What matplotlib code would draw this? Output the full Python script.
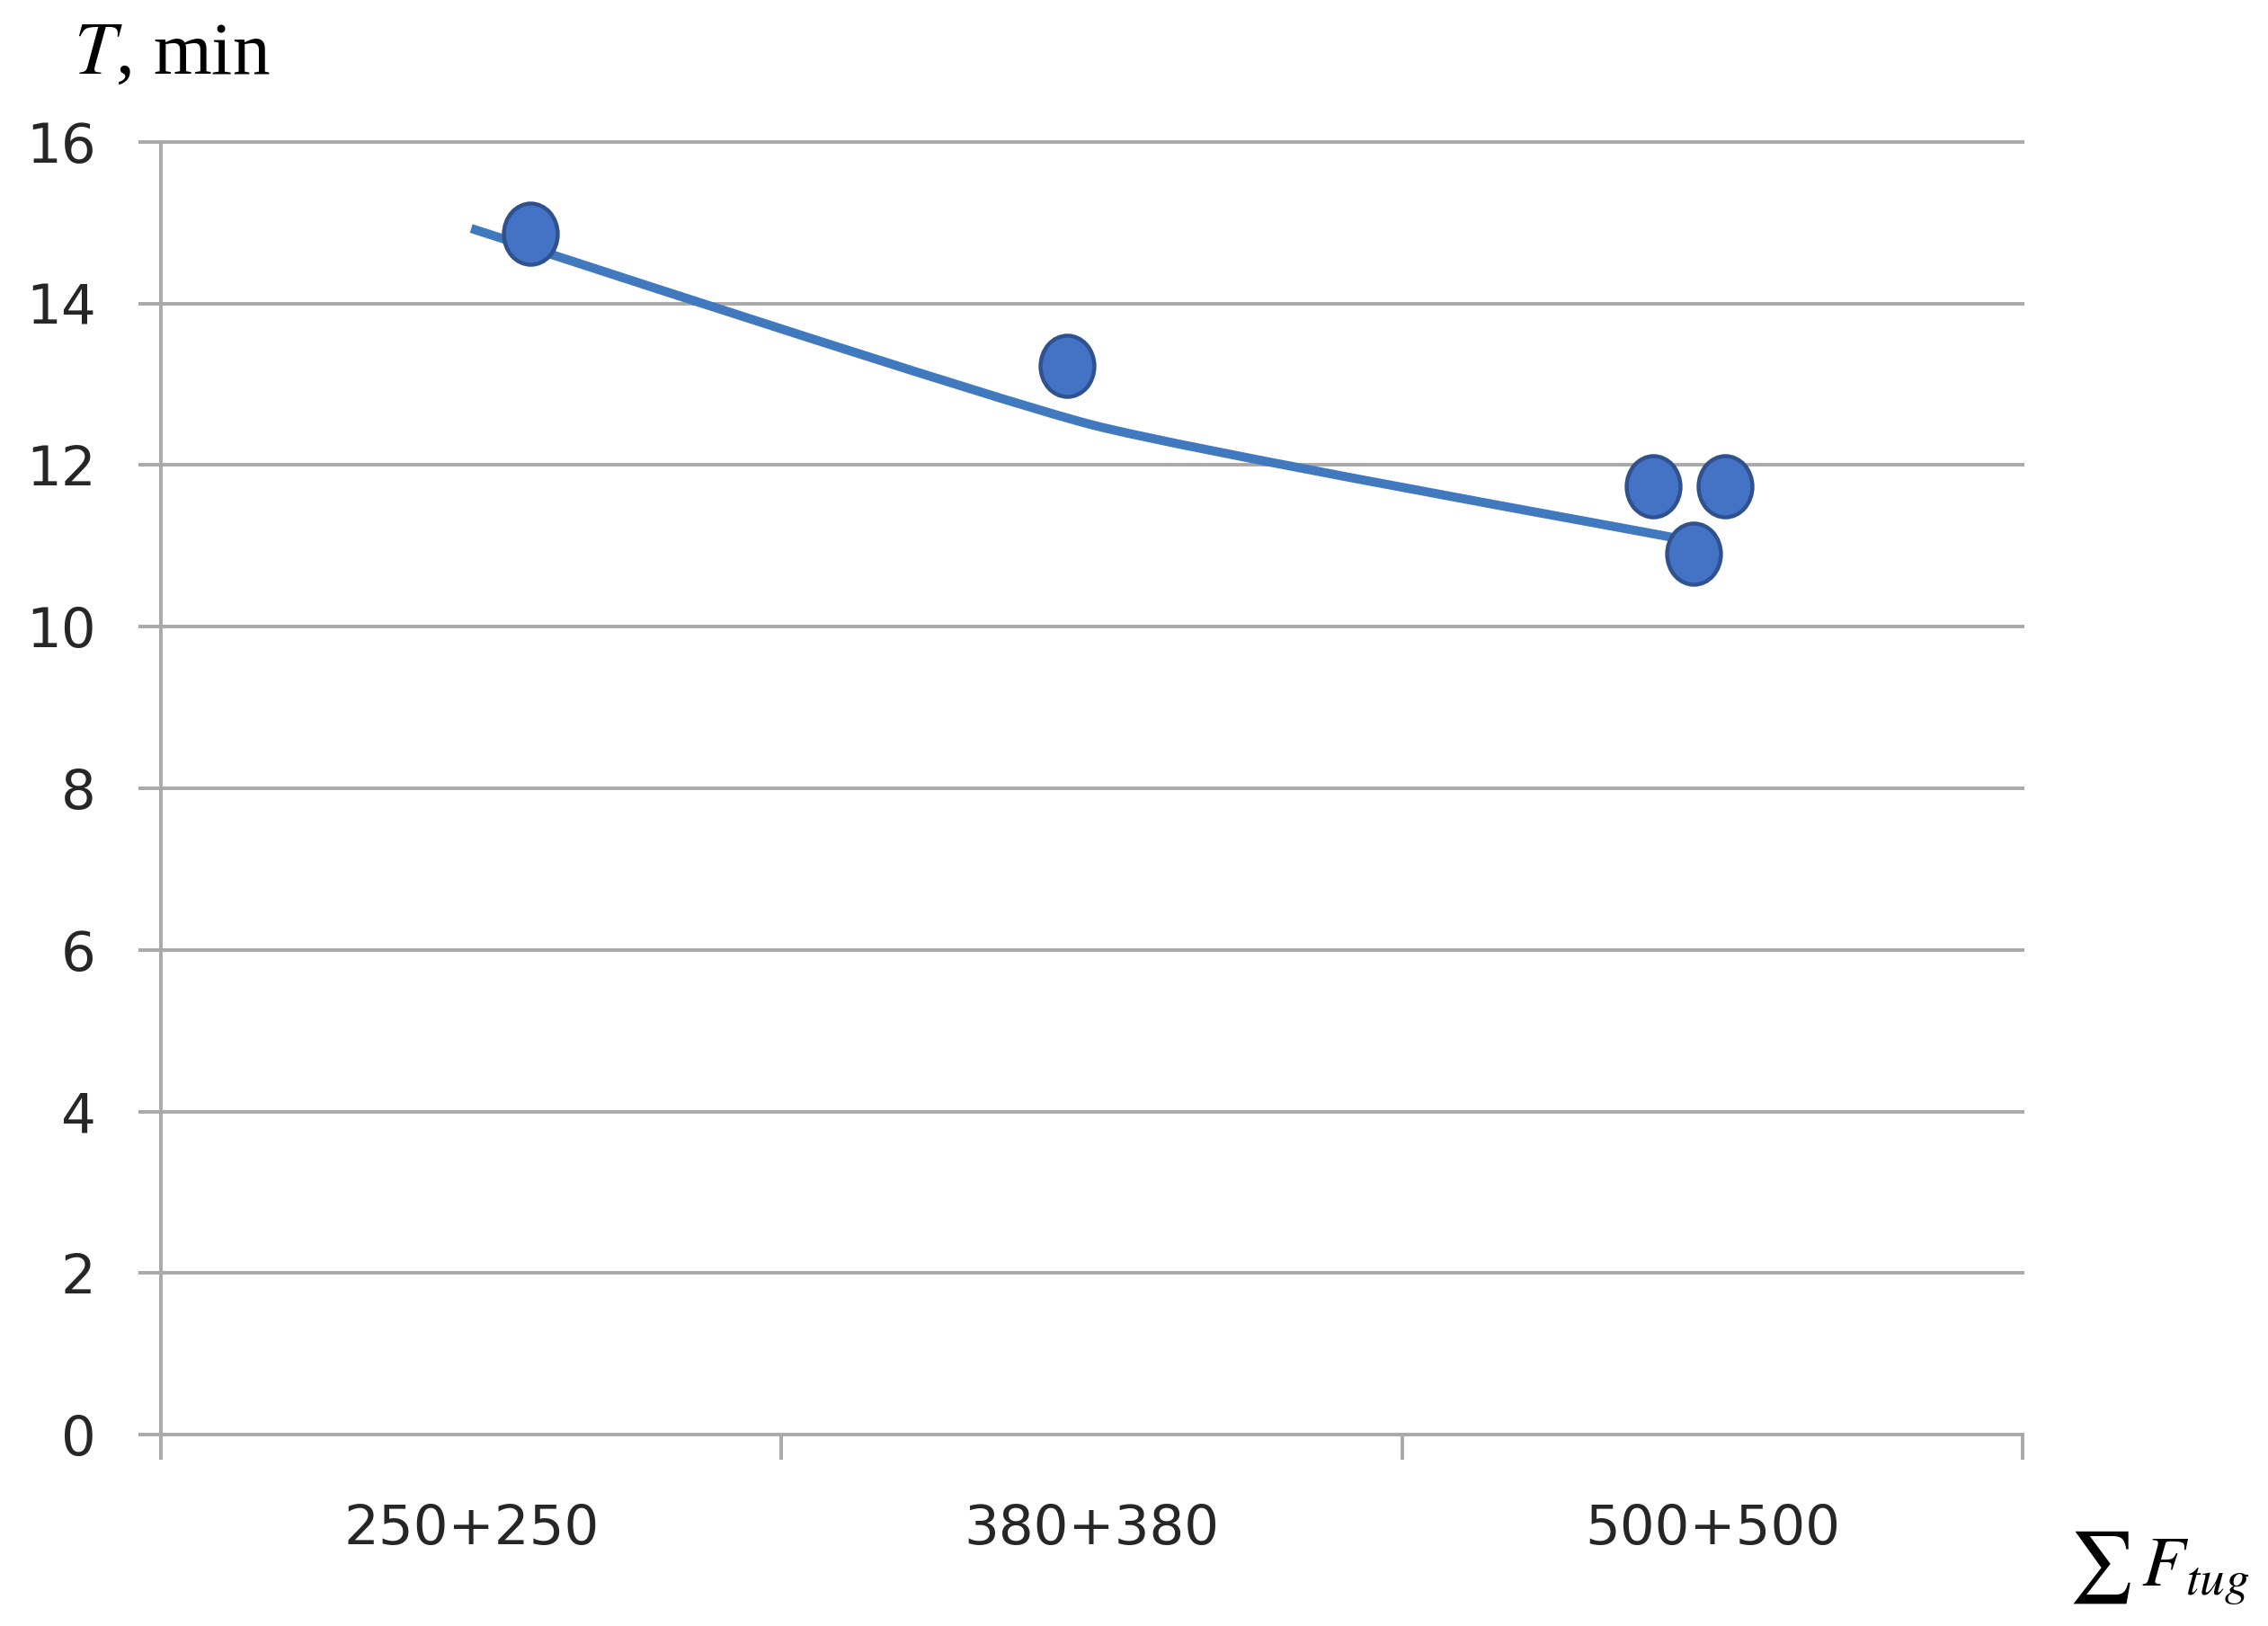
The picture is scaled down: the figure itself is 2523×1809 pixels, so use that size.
import numpy as np
import matplotlib
matplotlib.use('Agg')
import matplotlib.pyplot as plt
from matplotlib.path import Path
from matplotlib.patches import PathPatch
from matplotlib.transforms import Affine2D

# DATA
categories = ['250+250', '380+380', '500+500']
point_x = [0.095, 0.96, 1.905, 2.02, 1.97]          # position along category axis
point_y = [14.87, 13.23, 11.74, 11.74, 10.90]       # T, min
trend_x = [0.0, 1.0, 1.94]
trend_y = [14.93, 12.50, 11.10]
y_ticks = [0, 2, 4, 6, 8, 10, 12, 14, 16]

GRID = '#a9a9a9'
LINE = '#4179bf'
FILL = '#4472c4'
EDGE = '#2f528f'
TXT = '#262626'


def smooth_path(xs, ys, k=12):
    # bezier through the points, rounded only near the joints
    p = np.column_stack([xs, ys])
    verts = [p[0]]
    codes = [Path.MOVETO]
    n = len(p)
    for i in range(n - 1):
        p0 = p[i - 1] if i > 0 else p[i]
        p3 = p[i + 2] if i + 2 < n else p[i + 1]
        c1 = p[i] + (p[i + 1] - p0) / k
        c2 = p[i + 1] - (p3 - p[i]) / k
        verts += [c1, c2, p[i + 1]]
        codes += [Path.CURVE4] * 3
    return Path(verts, codes)


fig = plt.figure(figsize=(25.23, 18.09), dpi=100)
ax = fig.add_axes([179 / 2523, 1 - 1596 / 1809, 2071 / 2523, 1438 / 1809])

ax.set_xlim(-0.5, 2.5)
ax.set_ylim(0, 16)

# horizontal gridlines
for v in y_ticks:
    ax.axhline(v, color=GRID, lw=2.8, zorder=1, clip_on=False)

ax.add_patch(PathPatch(smooth_path(trend_x, trend_y), fill=False,
                       edgecolor=LINE, lw=7.2, capstyle='butt', zorder=3))

ellipse = Path.unit_circle().transformed(Affine2D().scale(0.88, 1.0))
ax.plot(point_x, point_y, ls='none', marker=ellipse, ms=49,
        mfc=FILL, mec=EDGE, mew=3.2, zorder=4, clip_on=False)

for s in ['top', 'right', 'bottom']:
    ax.spines[s].set_visible(False)
ax.spines['left'].set_color(GRID)
ax.spines['left'].set_linewidth(2.8)

ax.set_yticks(y_ticks)
ax.tick_params(axis='y', length=18, width=2.8, color=GRID, pad=34,
               labelsize=44, labelcolor=TXT)

ax.set_xticks(range(len(categories)))
ax.set_xticklabels(categories)
ax.set_xticks([-0.5, 0.5, 1.5, 2.5], minor=True)
ax.tick_params(axis='x', which='major', length=0, pad=55,
               labelsize=44, labelcolor=TXT)
ax.tick_params(axis='x', which='minor', length=20, width=2.8, color=GRID)

plt.rcParams['mathtext.fontset'] = 'stix'
fig.text(82 / 2523, 1 - 62 / 1809, r'$T$, min', family='Liberation Serif',
         fontsize=60, ha='left', va='center')
fig.text(2402 / 2523, 1 - 1745 / 1809, r'$\sum\, F_{tug}$', family='Liberation Serif',
         fontsize=57, ha='center', va='center')

fig.savefig('out.png', dpi=100, facecolor='white')
